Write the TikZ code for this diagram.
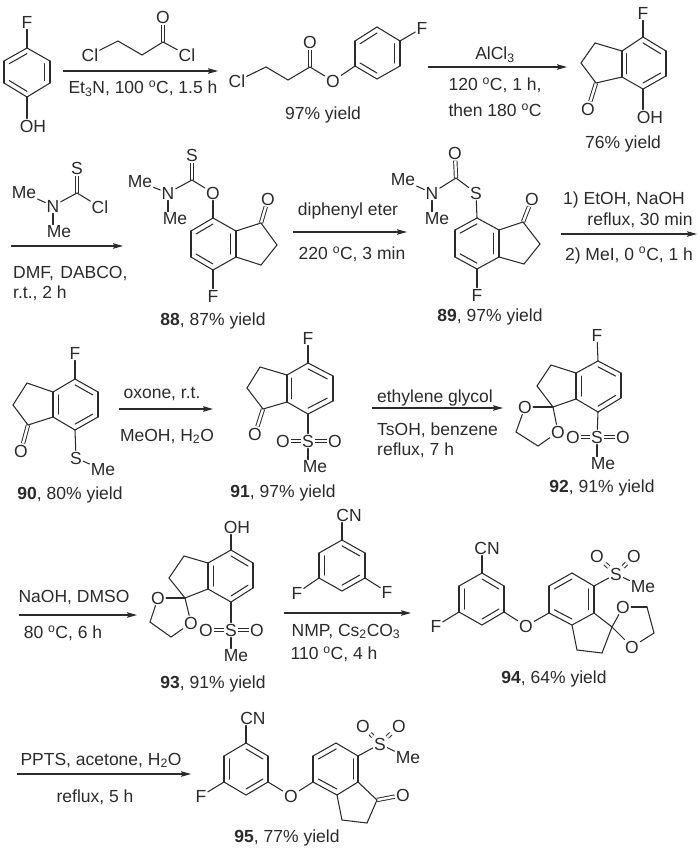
\documentclass[tikz,border=0pt]{standalone}
\usepackage{fontspec}
\setmainfont{Liberation Sans}
\usetikzlibrary{calc,arrows.meta}
\definecolor{ink}{HTML}{2B2B2B}
\tikzset{
  bond/.style={draw=ink,line width=1.05pt,line cap=round,line join=round},
  dblbond/.style={draw=ink,line width=0.95pt,double=white,double distance=2.4pt},
  rxn/.style={draw=ink,line width=1.05pt,-{Stealth[length=10pt,width=5.5pt,inset=1.5pt]}},
  atom/.style={inner sep=1.2pt,text=ink,font=\fontsize{17.5}{20}\selectfont},
  lbl/.style={inner sep=0pt,text=ink,yshift=-1.5pt,font=\fontsize{17.5}{20}\selectfont},
}
\newcommand\chpts[1]{\foreach \n/\x/\y in {#1}{\coordinate (\n) at (\x,\y);}}
\newcommand\chatoms[1]{\foreach \n/\x/\y/\txt in {#1}{\node[atom] (\n) at (\x,\y) {\txt};}}
\newcommand\chbonds[1]{\foreach \a/\b in {#1}{\draw[bond] (\a) -- (\b);}}
\newcommand\chdbl[1]{\foreach \a/\b in {#1}{\draw[dblbond] (\a) -- (\b);}}
\newcommand\chinner[3]{\coordinate (ctr) at ($(#1)!.5!(#2)$);\foreach \a/\b in {#3}{\draw[bond] ($(ctr)!.77!(\a)$) -- ($(ctr)!.77!(\b)$);}}
\newcommand\dgC{\textsuperscript{o}C}
\begin{document}
\begin{tikzpicture}[x=1pt,y=-1pt]
\path[use as bounding box,fill=white] (0,0) rectangle (700,849);

% 4-fluorophenol
\chpts{a1/27/48,a2/50/61,a3/50/83,a4/27/97,a5/4/83,a6/4/61}
\chatoms{aF/27/22/F,aOH/33/126/OH}
\chbonds{a1/a2,a2/a3,a3/a4,a4/a5,a5/a6,a6/a1,a1/aF}
\draw[bond] (a4) -- (a4 |- aOH.north);
\chinner{a1}{a4}{a6/a1,a2/a3,a4/a5}

% acid chloride
\chpts{b1/118/41,b2/142/55,b3/163/42}
\chatoms{bCl/90/55/Cl,bO/163/17/O,bCl2/187/55/Cl}
\chdbl{b3/bO}
\chbonds{bCl/b1,b1/b2,b2/b3,b3/bCl2}

% arrow 1
\coordinate (r1s) at (63,71); \coordinate (r1e) at (218,71);
\draw[rxn] (r1s) -- (r1e);
\node[lbl] (t1) at (143,87) {Et\textsubscript{3}N, 100 \dgC, 1.5 h};

% ester
\chpts{c1/266/67,c2/288/80,c3/310/67,c4/377/27,c5/400/41,c6/400/66,c7/377/79,c8/355/66,c9/355/41}
\chatoms{cCl/237/81/Cl,cO/310/42/O,cOe/333/81/O,cF/422/28/F}
\chdbl{c3/cO}
\chbonds{cCl/c1,c1/c2,c2/c3,c3/cOe,cOe/c8,c4/c5,c5/c6,c6/c7,c7/c8,c8/c9,c9/c4,c5/cF}
\chinner{c4}{c7}{c9/c4,c5/c6,c7/c8}
\node[lbl] (t2) at (323,113) {97\% yield};

% arrow 2
\coordinate (r2s) at (428,67); \coordinate (r2e) at (567,67);
\draw[rxn] (r2s) -- (r2e);
\node[lbl] (t3) at (495,53) {AlCl\textsubscript{3}};
\node[lbl] (t4) at (495,84) {120 \dgC, 1 h,};
\node[lbl] (t5) at (495,109) {then 180 \dgC};

% hydroxy indanone
\chpts{d1/643/37,d2/666/51,d3/666/76,d4/643/89,d5/622/77,d6/622/51,d7/595/43,d8/581/63,d9/596/83}
\chatoms{dF/643/13/F,dO/588/109/O,dOH/650/117/OH}
\chdbl{d9/dO}
\chbonds{d1/d2,d2/d3,d3/d4,d4/d5,d5/d6,d6/d1,d6/d7,d7/d8,d8/d9,d9/d5,d1/dF}
\draw[bond] (d4) -- (d4 |- dOH.north);
\chinner{d1}{d4}{d1/d2,d3/d4,d5/d6}
\node[lbl] (t6) at (623,142) {76\% yield};

% thiocarbamoyl chloride
\chpts{e1/77/193}
\chatoms{eS/77/168/S,eMe/24/193/Me,eN/53/206/N,eCl/100/207/Cl,eMe2/59/232/Me}
\chdbl{e1/eS}
\chbonds{eMe/eN,eN/e1,e1/eCl}
\draw[bond] (eN) -- (eN |- eMe2.north);
\coordinate (r3s) at (11,246); \coordinate (r3e) at (123,246);
\draw[rxn] (r3s) -- (r3e);
\node[lbl,anchor=west] (t7) at (13,272) {DMF,\hspace{1.5pt} DABCO,};
\node[lbl,anchor=west] (t8) at (13,292) {r.t., 2 h};

% 88
\chpts{f0/192/180,f1/213/218,f2/236/231,f3/236/257,f4/213/270,f5/191/257,f6/191/231,f7/261/223,f8/277/245,f9/261/265}
\chatoms{fS/192/155/S,fMe/140/182/Me,fN/168/193/N,fMe2/175/219/Me,fO/213/193/O,fF/213/296/F,fOk/268/199/O}
\chdbl{f0/fS,f7/fOk}
\chbonds{fMe/fN,fN/f0,f0/fO,fO/f1,f1/f2,f2/f3,f3/f4,f4/f5,f5/f6,f6/f1,f2/f7,f7/f8,f8/f9,f9/f3,f4/fF}
\draw[bond] (fN) -- (fN |- fMe2.north);
\chinner{f1}{f4}{f6/f1,f4/f5,f2/f3}
\node[lbl] (t9) at (213,319) {\textbf{88}, 87\% yield};

% arrow 4
\coordinate (r4s) at (293,232); \coordinate (r4e) at (407,232);
\draw[rxn] (r4s) -- (r4e);
\node[lbl] (t10) at (348,209) {diphenyl eter};
\node[lbl] (t11) at (352,253) {220 \dgC, 3 min};

% 89
\chpts{g0/456/178,g1/477/218,g2/499/230,g3/499/257,g4/477/269,g5/455/257,g6/455/230,g7/523/222,g8/540/244,g9/524/264}
\chatoms{gO/455/153/O,gMe/403/180/Me,gN/432/193/N,gMe2/437/219/Me,gS/476/193/S,gF/477/295/F,gOk/532/199/O}
\chdbl{g0/gO,g7/gOk}
\chbonds{gMe/gN,gN/g0,g0/gS,gS/g1,g1/g2,g2/g3,g3/g4,g4/g5,g5/g6,g6/g1,g2/g7,g7/g8,g8/g9,g9/g3,g4/gF}
\draw[bond] (gN) -- (gN |- gMe2.north);
\chinner{g1}{g4}{g6/g1,g4/g5,g2/g3}
\node[lbl] (t12) at (490,315) {\textbf{89}, 97\% yield};

% arrow 5
\coordinate (r5s) at (561,234); \coordinate (r5e) at (697,234);
\draw[rxn] (r5s) -- (r5e);
\node[lbl] (t13) at (624,198) {1) EtOH, NaOH};
\node[lbl] (t14) at (640,219) {reflux, 30 min};
\node[lbl] (t15) at (629,254) {2) MeI, 0 \dgC, 1 h};

% 90
\chpts{h1/75/379,h2/98/392,h3/98/417,h4/75/430,h5/53/417,h6/53/392,h7/27/383,h8/13/405,h9/28/425}
\chatoms{hF/75/353/F,hO/21/451/O,hS/76/458/S,hMe/103/470/Me}
\chdbl{h9/hO}
\chbonds{h1/h2,h2/h3,h3/h4,h4/h5,h5/h6,h6/h1,h6/h7,h7/h8,h8/h9,h9/h5,h1/hF,h4/hS,hS/hMe}
\chinner{h1}{h4}{h1/h2,h3/h4,h5/h6}
\node[lbl] (t16) at (70,493) {\textbf{90}, 80\% yield};

% arrow 6
\coordinate (r6s) at (119,409); \coordinate (r6e) at (213,409);
\draw[rxn] (r6s) -- (r6e);
\node[lbl] (t17) at (162,392) {oxone, r.t.};
\node[lbl] (t18) at (167,435) {MeOH, H\textsubscript{2}O};

% 91
\chpts{i1/308/363,i2/333/376,i3/333/401,i4/308/414,i5/287/402,i6/287/375,i7/260/367,i8/247/388,i9/263/409}
\chatoms{iF/308/338/F,iO/255/434/O,iS/308/441/S,iOa/283/441/O,iOb/335/441/O,iMe/315/467/Me}
\chdbl{i9/iO,iS/iOa,iS/iOb}
\chbonds{i1/i2,i2/i3,i3/i4,i4/i5,i5/i6,i6/i1,i6/i7,i7/i8,i8/i9,i9/i5,i1/iF,i4/iS}
\draw[bond] (iS) -- (iS |- iMe.north);
\chinner{i1}{i4}{i1/i2,i3/i4,i5/i6}
\node[lbl] (t19) at (283,491) {\textbf{91}, 97\% yield};

% arrow 7
\coordinate (r7s) at (372,408); \coordinate (r7e) at (503,408);
\draw[rxn] (r7s) -- (r7e);
\node[lbl] (t20) at (435,396) {ethylene glycol};
\node[lbl,anchor=west] (t21) at (377,429) {TsOH, benzene};
\node[lbl,anchor=west] (t22) at (377,449) {reflux, 7 h};

% 92
\chpts{j1/598/361,j2/621/373,j3/621/398,j4/598/412,j5/576/399,j6/576/373,j7/551/365,j8/537/386,j9/553/407,j10/516/432,j11/538/446}
\chatoms{jF/597/335/F,jO1/525/407/O,jO2/558/432/O,jS/597/437/S,jOa/573/437/O,jOb/623/437/O,jMe/603/464/Me}
\chdbl{jS/jOa,jS/jOb}
\chbonds{j1/j2,j2/j3,j3/j4,j4/j5,j5/j6,j6/j1,j6/j7,j7/j8,j8/j9,j9/j5,j1/jF,j4/jS,j9/jO1,j9/jO2,jO1/j10,j10/j11,j11/jO2}
\draw[bond] (jS) -- (jS |- jMe.north);
\chinner{j1}{j4}{j1/j2,j3/j4,j5/j6}
\node[lbl] (t23) at (602,486) {\textbf{92}, 91\% yield};

% arrow 8
\coordinate (r8s) at (19,615); \coordinate (r8e) at (137,615);
\draw[rxn] (r8s) -- (r8e);
\node[lbl] (t24) at (74,596) {NaOH, DMSO};
\node[lbl] (t25) at (63,632) {80 \dgC, 6 h};

% 93
\chpts{k1/231/550,k2/253/563,k3/253/588,k4/231/602,k5/208/589,k6/208/563,k7/184/556,k8/169/578,k9/185/598,k10/150/622,k11/171/637}
\chatoms{kOH/237/527/OH,kO1/158/598/O,kO2/191/623/O,kS/231/630/S,kOa/206/630/O,kOb/257/630/O,kMe/236/656/Me}
\chdbl{kS/kOa,kS/kOb}
\chbonds{k1/k2,k2/k3,k3/k4,k4/k5,k5/k6,k6/k1,k6/k7,k7/k8,k8/k9,k9/k5,k4/kS,k9/kO1,k9/kO2,kO1/k10,k10/k11,k11/kO2}
\draw[bond] (k1) -- (k1 |- kOH.south);
\draw[bond] (kS) -- (kS |- kMe.north);
\chinner{k1}{k4}{k1/k2,k3/k4,k5/k6}
\node[lbl] (t26) at (213,682) {\textbf{93}, 91\% yield};

% difluorobenzonitrile
\chpts{l1/342/540,l2/365/553,l3/365/578,l4/342/591,l5/319/578,l6/319/553}
\chatoms{lCN/349/515/CN,lFa/297/593/F,lFb/387/592/F}
\chbonds{l1/l2,l2/l3,l3/l4,l4/l5,l5/l6,l6/l1,l5/lFa,l3/lFb}
\draw[bond] (l1) -- (l1 |- lCN.south);
\chinner{l1}{l4}{l1/l2,l3/l4,l5/l6}

% arrow 9
\coordinate (r9s) at (284,613); \coordinate (r9e) at (411,613);
\draw[rxn] (r9s) -- (r9e);
\node[lbl] (t27) at (346,630) {NMP, Cs\textsubscript{2}CO\textsubscript{3}};
\node[lbl] (t28) at (334,653) {110 \dgC, 4 h};

% 94
\chpts{m1/482/573,m2/504/586,m3/504/612,m4/482/625,m5/459/612,m6/459/586,n1/549/613,n2/549/586,n3/572/573,n4/594/586,n5/594/613,n6/572/625,n7/577/650,n8/602/653,n9/612/627,n10/647/607,n11/654/633}
\chatoms{mCN/487/548/CN,mF/436/626/F,mO/526/626/O,nO1/623/607/O,nO2/632/647/O,nS/616/574/S,nOa/597/556/O,nOb/634/556/O,nMe/643/587/Me}
\chdbl{nS/nOa,nS/nOb}
\chbonds{m1/m2,m2/m3,m3/m4,m4/m5,m5/m6,m6/m1,m5/mF,m3/mO,mO/n1,n1/n2,n2/n3,n3/n4,n4/n5,n5/n6,n6/n1,n6/n7,n7/n8,n8/n9,n9/n5,n9/nO1,n9/nO2,nO1/n10,n10/n11,n11/nO2,n4/nS,nS/nMe}
\draw[bond] (m1) -- (m1 |- mCN.south);
\chinner{m1}{m4}{m1/m2,m3/m4,m5/m6}
\chinner{n3}{n6}{n2/n3,n4/n5,n6/n1}
\node[lbl] (t29) at (554,677) {\textbf{94}, 64\% yield};

% arrow 10
\coordinate (r10s) at (17,774); \coordinate (r10e) at (191,774);
\draw[rxn] (r10s) -- (r10e);
\node[lbl] (t30) at (101,759) {PPTS, acetone, H\textsubscript{2}O};
\node[lbl] (t31) at (95,796) {reflux, 5 h};

% 95
\chpts{o1/246/743,o2/268/756,o3/268/782,o4/246/795,o5/224/782,o6/224/756,q1/313/782,q2/313/756,q3/336/743,q4/358/756,q5/358/782,q6/337/795,q7/342/820,q8/367/823,q9/377/800}
\chatoms{oCN/253/718/CN,oF/201/796/F,oO/291/796/O,qOk/403/795/O,qS/380/744/S,qOa/363/726/O,qOb/399/726/O,qMe/408/758/Me}
\chdbl{q9/qOk,qS/qOa,qS/qOb}
\chbonds{o1/o2,o2/o3,o3/o4,o4/o5,o5/o6,o6/o1,o5/oF,o3/oO,oO/q1,q1/q2,q2/q3,q3/q4,q4/q5,q5/q6,q6/q1,q6/q7,q7/q8,q8/q9,q9/q5,q4/qS,qS/qMe}
\draw[bond] (o1) -- (o1 |- oCN.south);
\chinner{o1}{o4}{o1/o2,o3/o4,o5/o6}
\chinner{q3}{q6}{q2/q3,q4/q5,q6/q1}
\node[lbl] (t32) at (287,836) {\textbf{95}, 77\% yield};
\end{tikzpicture}
\end{document}
